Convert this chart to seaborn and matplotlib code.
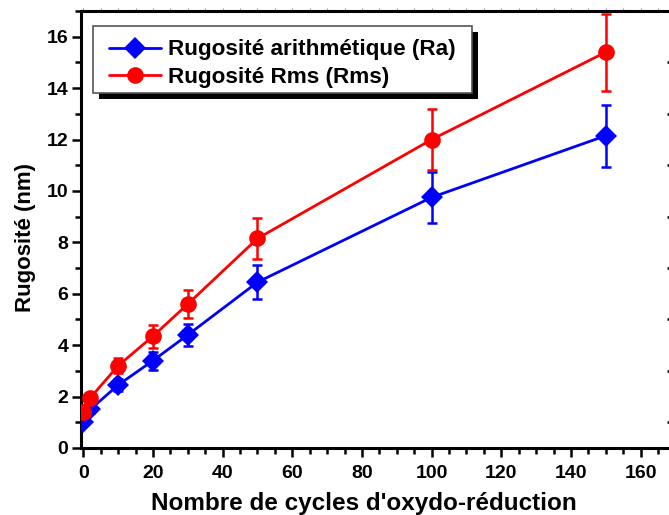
import numpy as np
import pandas as pd
import matplotlib
matplotlib.use('Agg')
import matplotlib.pyplot as plt
import seaborn as sns
from matplotlib.patches import Rectangle
from matplotlib.ticker import MultipleLocator
from matplotlib.transforms import IdentityTransform

cycles = [0, 2, 10, 20, 30, 50, 100, 150]
ra = [1.0, 1.5, 2.45, 3.4, 4.4, 6.45, 9.75, 12.15]
ra_err = [0.1, 0.15, 0.25, 0.35, 0.43, 0.65, 1.0, 1.2]
rms = [1.4, 1.95, 3.2, 4.35, 5.6, 8.15, 12.0, 15.4]
rms_err = [0.15, 0.2, 0.3, 0.45, 0.55, 0.8, 1.2, 1.5]
series_labels = ['Rugosité arithmétique (Ra)', 'Rugosité Rms (Rms)']
x_label = "Nombre de cycles d'oxydo-réduction"
y_label = 'Rugosité (nm)'
x_ticks = [0, 20, 40, 60, 80, 100, 120, 140, 160]
y_ticks = [0, 2, 4, 6, 8, 10, 12, 14, 16]

BLUE = '#0000ff'
RED = '#ff0000'
W, H = 669, 515

sns.set_theme(style='ticks')
plt.rcParams['font.family'] = ['Liberation Sans', 'DejaVu Sans']
plt.rcParams['font.weight'] = 'bold'
plt.rcParams['text.color'] = 'black'
plt.rcParams['axes.labelcolor'] = 'black'
plt.rcParams['xtick.color'] = 'black'
plt.rcParams['ytick.color'] = 'black'
plt.rcParams['xtick.labelcolor'] = 'black'
plt.rcParams['ytick.labelcolor'] = 'black'

fig = plt.figure(figsize=(W / 100, H / 100), dpi=100)
ax = fig.add_axes([81 / W, 67 / H, 591 / W, 437 / H])

df_ra = pd.DataFrame({'cycles': cycles, 'value': ra})
df_rms = pd.DataFrame({'cycles': cycles, 'value': rms})

sns.lineplot(data=df_ra, x='cycles', y='value', ax=ax, color=BLUE, marker='D',
             markersize=11, markeredgewidth=0, linewidth=2.0, zorder=3)
sns.lineplot(data=df_rms, x='cycles', y='value', ax=ax, color=RED, marker='o',
             markersize=12, markeredgewidth=0, linewidth=2.0, zorder=3)
ax.errorbar(cycles, ra, yerr=ra_err, fmt='none', ecolor=BLUE, elinewidth=1.8,
            capsize=3.8, capthick=1.8, zorder=2)
ax.errorbar(cycles, rms, yerr=rms_err, fmt='none', ecolor=RED, elinewidth=1.8,
            capsize=3.8, capthick=1.8, zorder=2)

ax.set_xlim(-0.66, 169)
ax.set_ylim(0, 17)
ax.set_xticks(x_ticks)
ax.set_yticks(y_ticks)
ax.xaxis.set_minor_locator(MultipleLocator(5))
ax.yaxis.set_minor_locator(MultipleLocator(1))
ax.tick_params(axis='both', which='major', direction='out', length=6.5, width=1.8,
               labelsize=14, colors='black', labelcolor='black')
ax.tick_params(axis='both', which='minor', direction='out', length=4, width=1.8,
               colors='black')
ax.tick_params(axis='x', which='major', pad=6)
ax.tick_params(axis='y', which='major', pad=2.5)
for lab in ax.get_xticklabels() + ax.get_yticklabels():
    lab.set_fontweight('bold')
for sp in ax.spines.values():
    sp.set_visible(True)
    sp.set_linewidth(2.2)
    sp.set_color('black')

ax.set_xlabel(x_label, fontsize=17.5, fontweight='bold', color='black')
ax.set_ylabel(y_label, fontsize=16, fontweight='bold', color='black')
ax.xaxis.set_label_coords((364 - 81) / 591, -0.1)
ax.yaxis.set_label_coords(-0.0755, (448 - 237) / 437)

# right axis ticks (minor inward, majors outward)
ax2 = ax.twinx()
ax2.set_ylim(ax.get_ylim())
ax2.set_yticks(y_ticks)
ax2.yaxis.set_minor_locator(MultipleLocator(1))
ax2.tick_params(axis='y', which='major', direction='out', length=6.5, width=1.8,
                labelright=False, colors='black')
ax2.tick_params(axis='y', which='minor', direction='in', length=3.5, width=1.8,
                colors='black')
for sp in ax2.spines.values():
    sp.set_visible(False)

# top axis tiny ticks
secx = ax.secondary_xaxis('top')
secx.set_xticks(x_ticks)
secx.xaxis.set_minor_locator(MultipleLocator(5))
secx.tick_params(axis='x', which='both', direction='out', length=2, width=0.8,
                 colors='#999999', labeltop=False)
secx.spines['top'].set_visible(False)

# legend: content via matplotlib, frame and shadow drawn at fixed pixel box
handles = [ax.get_lines()[0], ax.get_lines()[1]]
leg = ax.legend(handles, series_labels,
                bbox_to_anchor=(95 / W, 1 - 26 / H),
                bbox_transform=fig.transFigure, loc='upper left',
                prop={'weight': 'bold', 'size': 16.2},
                frameon=False, borderpad=0.6, labelspacing=0.28,
                handlelength=2.35, handletextpad=0.3, numpoints=1,
                borderaxespad=0)
leg.set_zorder(10)
for t in leg.get_texts():
    t.set_color('black')

box_x0, box_y0, box_x1, box_y1 = 93, 26, 472, 93
frame = Rectangle((box_x0, H - box_y1), box_x1 - box_x0, box_y1 - box_y0,
                  transform=IdentityTransform(), facecolor='white',
                  edgecolor='#555555', linewidth=1.2, zorder=9.5)
shadow = Rectangle((box_x0 + 6, H - box_y1 - 6), box_x1 - box_x0, box_y1 - box_y0,
                   transform=IdentityTransform(), facecolor='black',
                   edgecolor='none', zorder=9)
ax.add_artist(shadow)
ax.add_artist(frame)

fig.savefig('out.png', dpi=100)
